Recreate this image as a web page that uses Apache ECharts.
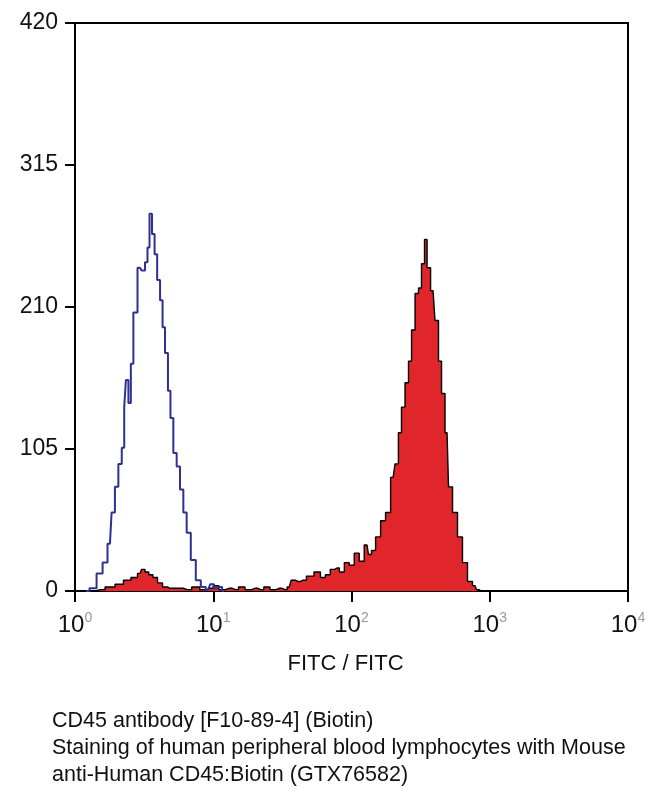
<!DOCTYPE html>
<html>
<head>
<meta charset="utf-8">
<style>
  html, body { margin: 0; padding: 0; background: #fff; }
  #chart { width: 651px; height: 800px; }
</style>
<script src="https://cdn.jsdelivr.net/npm/echarts@6/dist/echarts.min.js"></script>
</head>
<body>
<div id="chart"></div>
<script>
// 同型对照（蓝线）
var isoX = [1.2, 1.35, 1.52, 1.65, 1.79, 1.89, 2.0, 2.12, 2.24, 2.3, 2.37, 2.5, 2.57, 2.72, 2.95, 3.12, 3.3, 3.39, 3.53, 3.68, 3.85, 4.01, 4.24, 4.36, 4.6, 4.81, 5.0, 5.29, 5.59, 5.91, 6.25, 6.6, 7.17, 7.8, 8.47, 9.2, 9.8, 10.5, 11.2, 12];
var isoY = [0, 2, 13, 21, 35, 58, 77, 94, 106, 136, 156, 139, 168, 206, 239, 237, 243, 254, 279, 264, 249, 230, 215, 195, 176, 148, 128, 102, 92, 75, 58, 43, 23, 8, 3, 1, 5, 2, 3, 0];

// CD45 染色（红色填充）
var cdX = [1.3, 1.52, 1.79, 2.12, 2.37, 2.72, 2.95, 3.12, 3.3, 3.53, 3.79, 4.12, 4.48, 4.86, 5.75, 6.5, 7.5, 8.5, 9.5, 10.5, 11.5, 13, 14.5, 16, 18, 20, 22, 24.5, 27, 30, 33, 35.5,
  37.8, 41, 44.6, 50, 57.3, 62, 67.6, 73, 78.5, 85, 92.7, 100, 109.6, 118, 129.5, 136, 143, 156, 169, 184, 200, 213, 224, 236, 252, 265, 279, 298, 313, 329, 346, 358, 389, 415, 437, 459, 491, 516, 561, 609, 662, 720, 782, 822, 860];
var cdY = [0, 1, 3, 5, 8, 10, 13, 16, 14, 12, 10, 6, 3, 2, 2, 1, 3, 1, 2, 4, 1, 2, 1, 3, 1, 2, 1, 3, 1, 2, 1, 3,
  8, 7, 8, 11, 14, 10, 12, 16, 17, 14, 21, 19, 28, 22, 34, 27, 30, 40, 52, 58, 84, 94, 117, 136, 154, 170, 193, 220, 224, 242, 260, 239, 222, 200, 170, 146, 117, 77, 58, 40, 21, 7, 4, 1, 0];

var yTicks = [0, 105, 210, 315, 420];

function pairs(xs, ys) {
  var out = [];
  for (var i = 0; i < xs.length; i++) out.push([xs[i], ys[i]]);
  return out;
}

var option = {
  backgroundColor: '#fff',
  animation: false,
  grid: {
    left: 75,
    right: 23,
    top: 23,
    bottom: 209,
    show: true,
    borderColor: '#000',
    borderWidth: 2,
  },
  xAxis: {
    type: 'log',
    logBase: 10,
    min: 1,
    max: 10000,
    name: 'FITC / FITC',
    nameLocation: 'middle',
    nameGap: 62,
    nameTextStyle: {
      fontFamily: 'Liberation Sans',
      fontSize: 22,
      color: '#111',
      padding: [0, 12, 0, 0],
    },
    axisLine: { lineStyle: { color: '#000', width: 2 } },
    axisTick: { inside: false, length: 11, lineStyle: { color: '#000', width: 2 } },
    minorTick: { show: false },
    splitLine: { show: false },
    axisLabel: {
      margin: 20,
      formatter: function(v) {
        var e = Math.round(Math.log(v) / Math.LN10);
        return '{b|10}{s|' + e + '}';
      },
      rich: {
        b: { fontFamily: 'Liberation Sans', fontSize: 24, color: '#111' },
        s: { fontFamily: 'Liberation Sans', fontSize: 14, color: '#999', verticalAlign: 'top', padding: [0, 0, 14, 0] },
      },
    },
  },
  yAxis: {
    type: 'value',
    min: 0,
    max: 420,
    interval: 105,
    axisLine: { show: true, lineStyle: { color: '#000', width: 2 } },
    axisTick: { show: true, length: 10, lineStyle: { color: '#000', width: 2 } },
    splitLine: { show: false },
    axisLabel: {
      margin: 17,
      fontFamily: 'Liberation Sans',
      fontSize: 23,
      color: '#111',
      formatter: function(v) {
        return yTicks.indexOf(v) >= 0 ? String(v) : '';
      },
    },
  },
  graphic: [
    {
      type: 'text',
      left: 52,
      top: 708,
      style: {
        text: 'CD45 antibody [F10-89-4] (Biotin)\nStaining of human peripheral blood lymphocytes with Mouse\nanti-Human CD45:Biotin (GTX76582)',
        fontFamily: 'Liberation Sans',
        fontSize: 21.5,
        lineHeight: 27,
        fill: '#111',
      },
    },
  ],
  series: [
    {
      type: 'line',
      step: 'middle',
      showSymbol: false,
      data: pairs(cdX, cdY),
      lineStyle: { color: '#000', width: 1.4 },
      areaStyle: { color: '#e0262b', opacity: 1 },
      z: 2,
    },
    {
      type: 'line',
      step: 'middle',
      showSymbol: false,
      data: pairs(isoX, isoY),
      lineStyle: { color: '#2e3192', width: 2 },
      z: 3,
    },
  ],
};

var myChart = echarts.init(document.getElementById('chart'));
myChart.setOption(option);
</script>
</body>
</html>
